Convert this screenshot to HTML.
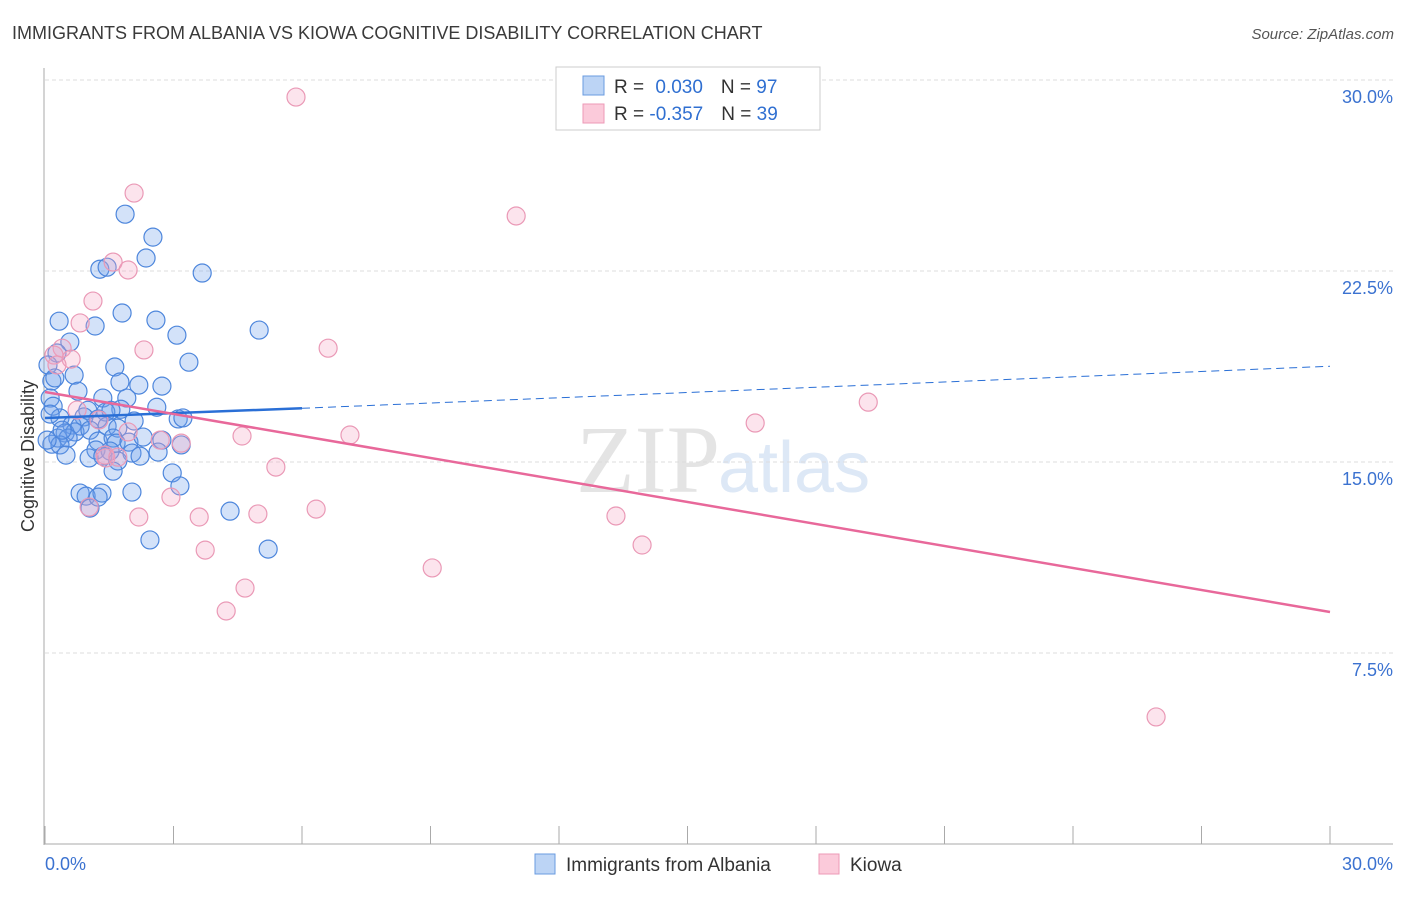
<!DOCTYPE html>
<html><head><meta charset="utf-8"><style>
body{margin:0;background:#fff;font-family:"Liberation Sans",sans-serif;}
</style></head><body>
<svg width="1406" height="892" xmlns="http://www.w3.org/2000/svg" id="chart" font-family="Liberation Sans, sans-serif">
<text x="12" y="39" font-size="18" fill="#3a3a3a">IMMIGRANTS FROM ALBANIA VS KIOWA COGNITIVE DISABILITY CORRELATION CHART</text>
<text x="1394" y="39" font-size="15" fill="#555" font-style="italic" text-anchor="end">Source: ZipAtlas.com</text>
<text x="720" y="492" font-size="96" fill="#e4e4e4" text-anchor="end" font-family="Liberation Serif, serif">ZIP</text>
<text x="718" y="492" font-size="72" fill="#dde8f6">atlas</text>
<g id="grid"></g>
<g id="axes"></g>
<g id="pts"></g>
<g id="trends"></g>
<text x="0" y="0" transform="translate(34,456) rotate(-90)" font-size="18" fill="#333" text-anchor="middle">Cognitive Disability</text>
<g>
<rect x="556" y="67" width="264" height="63" fill="#fff" stroke="#ccc"/>
<rect x="583" y="76" width="21" height="19" fill="#bcd4f5" stroke="#6a9be0"/>
<rect x="583" y="104" width="21" height="19" fill="#fbcada" stroke="#ec9ab7"/>
<text x="614" y="93" font-size="19" fill="#333">R = <tspan fill="#2f6fd1" dx="6">0.030</tspan><tspan dx="18">N = </tspan><tspan fill="#2f6fd1">97</tspan></text>
<text x="614" y="120" font-size="19" fill="#333">R = <tspan fill="#2f6fd1">-0.357</tspan><tspan dx="18">N = </tspan><tspan fill="#2f6fd1">39</tspan></text>
</g>
<g>
<rect x="535" y="854" width="20" height="20" fill="#bcd4f5" stroke="#6a9be0"/>
<text x="566" y="871" font-size="19" fill="#333">Immigrants from Albania</text>
<rect x="819" y="854" width="20" height="20" fill="#fbcada" stroke="#ec9ab7"/>
<text x="850" y="871" font-size="19" fill="#333">Kiowa</text>
</g>
</svg>
<script>
const yTicks=[7.5,15,22.5,30];
const yTickLabels=["7.5%","15.0%","22.5%","30.0%"];
const xTickLabels=["0.0%","30.0%"];
const blueX=[1.87,2.52,2.36,1.28,1.45,3.67,1.80,0.33,2.59,1.17,3.08,5.00,0.58,0.28,3.36,1.63,0.68,0.16,1.75,2.19,2.73,0.77,0.12,1.35,1.91,0.19,2.61,1.00,1.77,1.42,1.54,0.35,0.91,1.24,2.08,3.11,3.22,0.63,0.82,1.45,1.70,0.47,0.70,1.05,0.30,0.54,0.16,1.24,1.59,1.66,1.96,2.29,2.73,0.35,1.19,1.52,2.03,2.64,3.18,0.49,1.03,1.35,1.70,2.22,1.59,2.97,0.82,0.96,1.33,2.03,1.05,1.24,3.15,4.32,2.45,5.21,0.12,0.07,0.23,0.40,0.05];
const blueY=[24.73,23.83,23.01,22.57,22.65,22.42,20.85,20.53,20.57,20.34,19.98,20.18,19.71,19.28,18.92,18.73,18.41,18.18,18.14,18.02,17.98,17.78,17.51,17.51,17.51,17.19,17.15,17.03,17.07,16.96,17.03,16.73,16.77,16.69,16.61,16.69,16.73,16.45,16.41,16.41,16.33,16.14,16.18,16.25,15.94,15.94,15.70,15.82,15.94,15.74,15.78,15.98,15.86,15.67,15.47,15.43,15.35,15.39,15.67,15.27,15.16,15.23,15.04,15.23,14.64,14.57,13.78,13.66,13.78,13.82,13.19,13.62,14.06,13.07,11.94,11.58,16.88,18.81,18.30,16.25,15.86];
const pinkX=[5.86,2.08,11.00,1.59,1.94,1.12,0.82,0.40,0.61,0.21,0.28,2.31,6.61,19.22,16.58,7.12,4.60,2.69,3.18,0.75,1.26,1.94,1.42,5.39,13.33,6.33,4.97,3.60,2.19,2.94,1.03,13.94,3.74,9.04,4.67,4.23,25.94,1.40,1.70];
const pinkY=[29.33,25.56,24.66,22.85,22.54,21.32,20.46,19.47,19.04,19.20,18.81,19.40,19.47,17.35,16.53,16.06,16.02,15.86,15.74,17.04,16.65,16.18,15.16,14.80,12.88,13.15,12.96,12.84,12.84,13.62,13.23,11.74,11.54,10.84,10.05,9.15,4.99,15.27,15.19];
const blueTrend=[16.73,17.11,18.76]; // at x=0, 6, 30
const pinkTrend=[17.75,9.11]; // at x=0, 30
const NS="http://www.w3.org/2000/svg";
const X=v=>45+v*(1330-45)/30;
const Y=v=>844-v*(844-80)/30;
function mk(tag,attrs,parent){const e=document.createElementNS(NS,tag);for(const k in attrs)e.setAttribute(k,attrs[k]);parent.appendChild(e);return e;}
const grid=document.getElementById('grid'),axes=document.getElementById('axes'),pts=document.getElementById('pts'),tr=document.getElementById('trends');
yTicks.forEach((t,i)=>{
 const l=mk('line',{x1:45,x2:1393,y1:Y(t),y2:Y(t),stroke:'#ddd','stroke-dasharray':'4,3'},grid);
 
 
 const tx=mk('text',{x:1393,y:Y(t)+23,'font-size':18,fill:'#3b72d0','text-anchor':'end'},grid);
 tx.textContent=yTickLabels[i];
 
 
});
const ya=mk('line',{x1:44,x2:44,y1:68,y2:845,stroke:'#aaa'},axes);


const xa=mk('line',{x1:44,x2:1393,y1:844,y2:844,stroke:'#aaa'},axes);


for(let i=0;i<=10;i++){
 const t=mk('line',{x1:X(i*3),x2:X(i*3),y1:826,y2:844,stroke:'#aaa'},axes);
 
 
}
[[0,'start'],[30,'end']].forEach((d,i)=>{
 const tx=mk('text',{x:i?1393:45,y:870,'font-size':18,fill:'#3b72d0','text-anchor':d[1]},axes);
 tx.textContent=xTickLabels[i];
 
 
});
blueX.forEach((x,i)=>{
 const c=mk('circle',{cx:X(x),cy:Y(blueY[i]),r:9,fill:'rgba(110,160,235,0.3)',stroke:'#4d86dc','stroke-width':1.2},pts);
 
 
});
pinkX.forEach((x,i)=>{
 const c=mk('circle',{cx:X(x),cy:Y(pinkY[i]),r:9,fill:'rgba(245,165,195,0.3)',stroke:'#ea99b6','stroke-width':1.2},pts);
 
 
});
const b1=mk('line',{x1:X(0),y1:Y(blueTrend[0]),x2:X(6),y2:Y(blueTrend[1]),stroke:'#2a6fd6','stroke-width':2.5},tr);


const b2=mk('line',{x1:X(6),y1:Y(blueTrend[1]),x2:X(30),y2:Y(blueTrend[2]),stroke:'#2a6fd6','stroke-width':1,'stroke-dasharray':'8,5'},tr);


const p1=mk('line',{x1:X(0),y1:Y(pinkTrend[0]),x2:X(30),y2:Y(pinkTrend[1]),stroke:'#e8689a','stroke-width':2.5},tr);


</script>
</body></html>
